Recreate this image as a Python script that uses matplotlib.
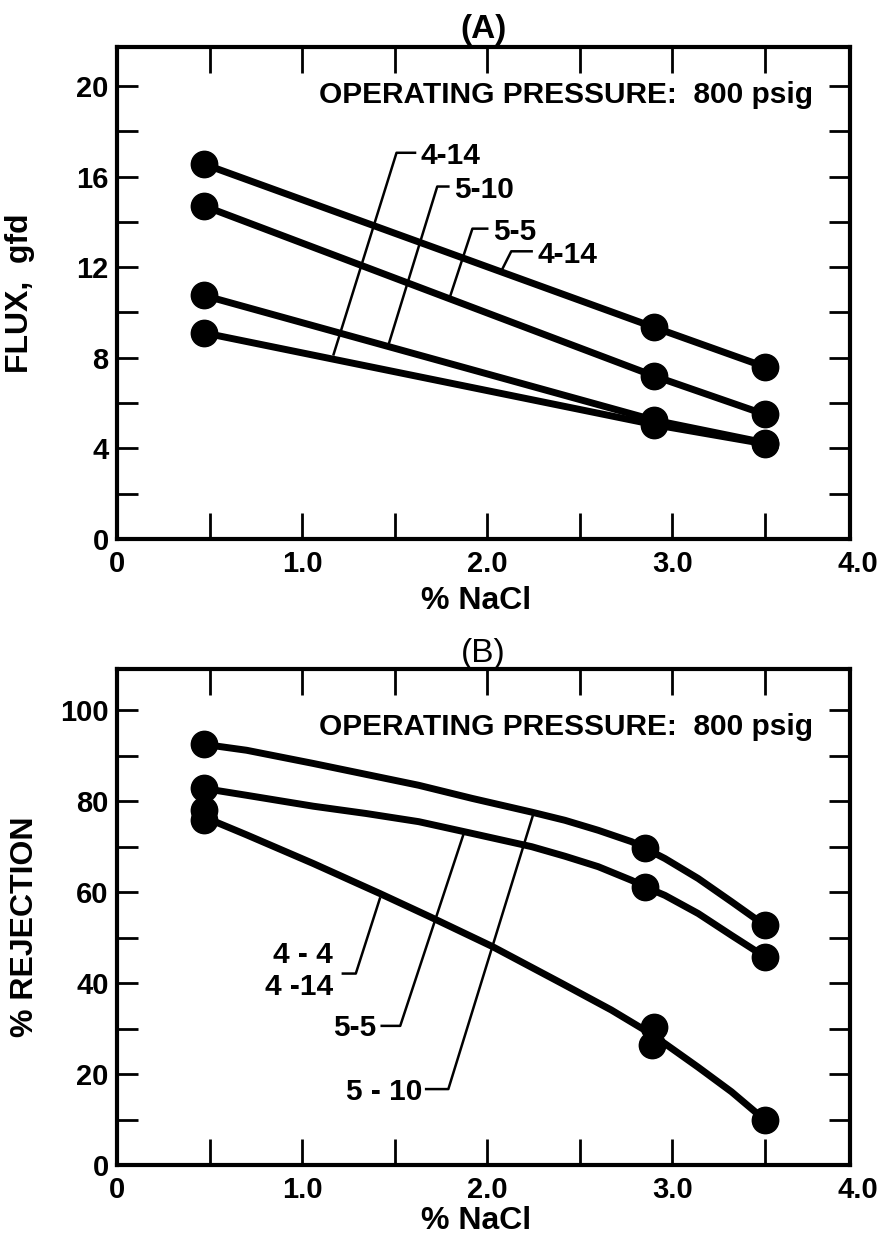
import numpy as np
import matplotlib
matplotlib.use("Agg")
import matplotlib.pyplot as plt
from matplotlib.ticker import MultipleLocator, FixedLocator

plt.rcParams["font.family"] = ["Liberation Sans", "DejaVu Sans"]
plt.rcParams["font.weight"] = "bold"

# (A) flux vs NaCl
nacl_a = [0.47, 2.9, 3.5]
flux_top_414 = [16.55, 9.35, 7.6]
flux_55 = [14.7, 7.2, 5.5]
flux_510 = [10.75, 5.25, 4.25]
flux_414 = [9.1, 5.05, 4.2]

# leader lines (A): start on a curve, go up, then short horizontal tick
leader_a_labels = ["4-14", "5-10", "5-5", "4-14"]
leader_a_x = [[1.17, 1.51, 1.61], [1.47, 1.73, 1.79], [1.80, 1.92, 2.00], [2.08, 2.13, 2.24]]
leader_a_y = [[8.15, 17.05, 17.05], [8.66, 15.56, 15.56], [10.72, 13.7, 13.7], [11.89, 12.7, 12.7]]

# (B) rejection vs NaCl -- curve vertices
curve1_x = [0.47, 0.70, 1.06, 1.345, 1.63, 1.92, 2.24, 2.42, 2.60, 2.78, 2.85, 2.96, 3.14, 3.32, 3.50]
curve1_y = [92.5, 91.2, 88.3, 85.9, 83.5, 80.6, 77.6, 75.8, 73.6, 71.1, 69.7, 67.4, 63.0, 57.9, 52.7]
curve2_x = [0.47, 0.70, 1.06, 1.345, 1.63, 1.92, 2.24, 2.42, 2.60, 2.78, 2.85, 2.96, 3.14, 3.32, 3.50]
curve2_y = [82.8, 81.3, 78.9, 77.3, 75.5, 72.9, 70.0, 67.9, 65.6, 62.6, 61.2, 59.3, 55.3, 50.5, 45.8]
curve3_x = [0.47, 0.70, 1.06, 1.42, 1.69, 2.03, 2.405, 2.67, 2.85, 2.96, 3.14, 3.32, 3.50]
curve3_y = [76.5, 72.6, 66.3, 59.7, 54.6, 48.0, 39.9, 34.1, 29.7, 26.7, 21.5, 16.1, 9.9]

pts_b_x = [0.47, 0.47, 0.47, 0.47, 2.85, 2.85, 2.90, 2.89, 3.50, 3.50, 3.50]
pts_b_y = [92.5, 82.8, 78.0, 75.8, 69.7, 61.2, 30.4, 26.4, 52.7, 45.8, 9.9]

leader_b_x = [[1.42, 1.29, 1.22], [1.87, 1.53, 1.43], [2.25, 1.79, 1.67]]
leader_b_y = [[58.6, 42.1, 42.1], [72.5, 30.6, 30.6], [77.3, 16.7, 16.7]]

TICK_FS = 21
NOTE_FS = 21.5
LAB_FS = 23
TITLE_FS = 24
LW = 5.0
MS = 19


def style_axes(ax, ymax, ymajor, yminor):
    ax.set_xlim(0, 3.96)
    ax.set_ylim(0, ymax)
    for s in ax.spines.values():
        s.set_linewidth(3)
    ax.xaxis.set_major_locator(FixedLocator(np.arange(0, 3.6, 0.5)))
    ax.set_xticklabels(["0", "", "1.0", "", "2.0", "", "3.0", ""])
    ax.yaxis.set_major_locator(MultipleLocator(ymajor))
    ax.yaxis.set_minor_locator(MultipleLocator(yminor))
    ax.tick_params(axis="x", which="both", direction="in", length=19, width=2,
                   top=True, bottom=True, labelsize=TICK_FS, pad=8)
    ax.tick_params(axis="y", which="both", direction="in", length=15, width=2,
                   left=True, right=True, labelsize=TICK_FS, pad=6)
    for lab in ax.get_xticklabels() + ax.get_yticklabels():
        lab.set_fontweight("bold")
    # the 4.0 label sits just past the right spine
    ax.annotate("4.0", xy=(4.0, 0), xycoords=("data", "axes fraction"),
                xytext=(0, -8), textcoords="offset points", ha="center",
                va="top", fontsize=TICK_FS, fontweight="bold",
                annotation_clip=False)
    ax.set_xlabel("% NaCl", fontsize=LAB_FS, fontweight="bold")


fig = plt.figure(figsize=(8.82, 12.39), dpi=100)

# ---- (A)
ax1 = fig.add_axes([0.1327, 0.565, 0.831, 0.3967])
for yv in [flux_top_414, flux_55, flux_510, flux_414]:
    ax1.plot(nacl_a, yv, color="black", lw=LW, marker="o", ms=MS,
             solid_capstyle="round")
for lab, lx, ly in zip(leader_a_labels, leader_a_x, leader_a_y):
    ax1.plot(lx, ly, color="black", lw=1.8)
    ax1.text(lx[-1] + 0.03, ly[-1] - 0.15, lab, ha="left", va="center",
             fontsize=NOTE_FS, fontweight="bold")
ax1.text(3.76, 19.6, "OPERATING PRESSURE:  800 psig", ha="right", va="center",
         fontsize=NOTE_FS, fontweight="bold")
style_axes(ax1, 21.7, 4, 2)
ax1.xaxis.set_label_coords(0.49, -0.095)
ax1.set_ylabel("FLUX,  gfd", fontsize=LAB_FS, fontweight="bold")
ax1.yaxis.set_label_coords(-0.112, 0.5)
ax1.set_title("(A)", fontsize=TITLE_FS, fontweight="bold", pad=7)

# ---- (B)
ax2 = fig.add_axes([0.1327, 0.0597, 0.831, 0.4001])
for cx, cy in [(curve1_x, curve1_y), (curve2_x, curve2_y), (curve3_x, curve3_y)]:
    ax2.plot(cx, cy, color="black", lw=LW, solid_capstyle="round",
             solid_joinstyle="round")
ax2.plot(pts_b_x, pts_b_y, "o", color="black", ms=MS)
for lx, ly in zip(leader_b_x, leader_b_y):
    ax2.plot(lx, ly, color="black", lw=1.8)
ax2.text(1.165, 46.2, "4 - 4", ha="right", va="center", fontsize=NOTE_FS, fontweight="bold")
ax2.text(1.165, 39.2, "4 -14", ha="right", va="center", fontsize=NOTE_FS, fontweight="bold")
ax2.text(1.40, 30.1, "5-5", ha="right", va="center", fontsize=NOTE_FS, fontweight="bold")
ax2.text(1.65, 16.1, "5 - 10", ha="right", va="center", fontsize=NOTE_FS, fontweight="bold")
ax2.text(3.76, 96.4, "OPERATING PRESSURE:  800 psig", ha="right", va="center",
         fontsize=NOTE_FS, fontweight="bold")
style_axes(ax2, 109, 20, 10)
ax2.xaxis.set_label_coords(0.49, -0.082)
ax2.set_ylabel("% REJECTION", fontsize=LAB_FS, fontweight="bold")
ax2.yaxis.set_label_coords(-0.105, 0.48)
ax2.set_title("(B)", fontsize=TITLE_FS, fontweight="normal", pad=5)

fig.savefig("out.png", dpi=100)
